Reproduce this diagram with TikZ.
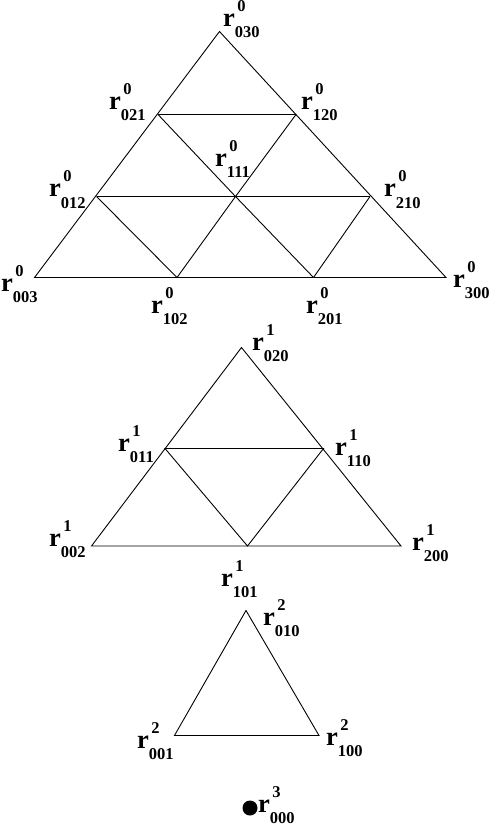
\documentclass[tikz,border=0pt]{standalone}
\usepackage{fontspec}
\setmainfont{Liberation Serif}
\usepackage{tikz}
\usetikzlibrary{positioning, calc}

\newcommand{\rlab}[2]{{\fontsize{26.5}{26.5}\selectfont r}\rlap{\raisebox{15pt}{\kern2.5pt\fontsize{16.5}{16.5}\selectfont #1}}\raisebox{-11pt}{\fontsize{16.5}{16.5}\selectfont #2}}

\begin{document}
\begin{tikzpicture}[x=1pt, y=-1pt,
        edgeline/.style={draw=black, line width=0.9pt},
        lab/.style={anchor=base west, inner sep=0pt, font=\bfseries}]
      \useasboundingbox (0,0) rectangle (489,826);

      % level 0
      \coordinate (a030) at (219.5,31.5);
      \coordinate (a003) at (34.5,277.5);
      \coordinate (a300) at (446,277.5);
      \coordinate (a021) at (158,114.5);
      \coordinate (a120) at (296,114.5);
      \coordinate (a012) at (96.5,196.5);
      \coordinate (a111) at (235.5,196.5);
      \coordinate (a210) at (370,196.5);
      \coordinate (a102) at (177,277.5);
      \coordinate (a201) at (313.5,277.5);

      \draw[edgeline] (a030) -- (a003) -- (a300) -- cycle;
      \draw[edgeline] (a021) -- (a120);
      \draw[edgeline] (a012) -- (a210);
      \draw[edgeline] (a021) -- (a111) -- (a201);
      \draw[edgeline] (a102) -- (a111) -- (a120);
      \draw[edgeline] (a012) -- (a102);
      \draw[edgeline] (a210) -- (a201);

      \node[lab] (l030) at (223,27) {\rlab{0}{030}};
      \node[lab] (l021) at (109,110) {\rlab{0}{021}};
      \node[lab] (l120) at (301,110) {\rlab{0}{120}};
      \node[lab] (l111) at (215,167) {\rlab{0}{111}};
      \node[lab] (l012) at (49,197) {\rlab{0}{012}};
      \node[lab] (l210) at (384,197) {\rlab{0}{210}};
      \node[lab] (l003) at (1,291) {\rlab{0}{003}};
      \node[lab] (l300) at (453,287) {\rlab{0}{300}};
      \node[lab] (l102) at (151,313) {\rlab{0}{102}};
      \node[lab] (l201) at (306,313) {\rlab{0}{201}};

      % level 1
      \coordinate (b020) at (241.5,347.5);
      \coordinate (b002) at (91.5,546);
      \coordinate (b200) at (401,546);
      \coordinate (b011) at (165,448.5);
      \coordinate (b110) at (323.5,448.5);
      \coordinate (b101) at (247.5,546);

      \draw[edgeline] (b020) -- (b002) -- (b200) -- cycle;
      \draw[edgeline] (b011) -- (b110) -- (b101) -- cycle;

      \node[lab] (l020) at (252,350) {\rlab{1}{020}};
      \node[lab] (l011) at (118,451) {\rlab{1}{011}};
      \node[lab] (l110) at (335,455) {\rlab{1}{110}};
      \node[lab] (l002) at (49,546) {\rlab{1}{002}};
      \node[lab] (l200) at (412,550) {\rlab{1}{200}};
      \node[lab] (l101) at (221,586) {\rlab{1}{101}};

      % level 2
      \coordinate (c010) at (246,610.5);
      \coordinate (c001) at (174.5,735.5);
      \coordinate (c100) at (319,735.5);

      \draw[edgeline] (c010) -- (c001) -- (c100) -- cycle;

      \node[lab] (l010) at (263,625) {\rlab{2}{010}};
      \node[lab] (l001) at (137,748) {\rlab{2}{001}};
      \node[lab] (l100) at (326,745) {\rlab{2}{100}};

      % level 3
      \fill (250,808) circle (7.5);
      \node[lab] (l000) at (258,812) {\rlab{3}{000}};
    \end{tikzpicture}
\end{document}
